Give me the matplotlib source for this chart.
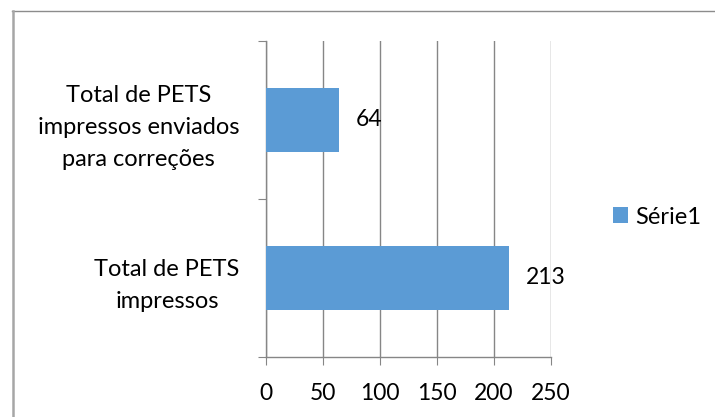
import matplotlib.pyplot as plt
from matplotlib.lines import Line2D

categories = ["Total de PETS\nimpressos", "Total de PETS\nimpressos enviados\npara correções"]
values = [213, 64]
series_name = "Série1"
x_ticks = [0, 50, 100, 150, 200, 250]

bar_color = "#5B9BD5"
axis_color = "#868686"

plt.rcParams['font.family'] = ['Lato', 'DejaVu Sans']

fig = plt.figure(figsize=(7.15, 4.17), dpi=100)
ax = fig.add_axes([266 / 715, 1 - 357 / 417, 285 / 715, 316 / 417])

ypos = list(range(len(categories)))
bars = ax.barh(ypos, values, height=0.4, color=bar_color, label=series_name, zorder=3)

# value labels to the right of each bar
for y, v in zip(ypos, values):
    ax.annotate(str(v), (v, y), xytext=(17, 0), textcoords="offset pixels",
                ha="left", va="center", fontsize=16.5, color="black", zorder=4)

ax.set_xlim(0, 250)
ax.set_ylim(-0.5, len(categories) - 0.5)
ax.set_xticks(x_ticks)
ax.set_xticklabels([str(t) for t in x_ticks], fontsize=16.5)
ax.xaxis.grid(True, color=axis_color, linewidth=1.0, zorder=0)

# category boundaries get the tick marks, labels sit between them
ax.set_yticks([-0.5, 0.5, 1.5])
ax.set_yticklabels([])
ax.set_yticks(ypos, labels=categories, minor=True)
for lbl in ax.get_yticklabels(minor=True):
    lbl.set_multialignment("center")
    lbl.set_fontsize(17)
    lbl.set_linespacing(1.65)

ax.tick_params(axis="y", which="major", length=6, color=axis_color, direction="out")
ax.tick_params(axis="y", which="minor", length=0, pad=19)
ax.tick_params(axis="x", length=6, color=axis_color, direction="out", pad=13)

for side in ("top", "right"):
    ax.spines[side].set_visible(False)
for side in ("left", "bottom"):
    ax.spines[side].set_color(axis_color)
    ax.spines[side].set_linewidth(1.0)

fig.legend(handles=[bars], labels=[series_name], loc="center left",
           bbox_to_anchor=(613 / 715, 1 - 217 / 417), frameon=False,
           fontsize=17, handlelength=0.65, handleheight=0.65,
           handletextpad=0.3, borderpad=0, borderaxespad=0)

# outer chart frame (top and left edges visible)
fig.add_artist(Line2D([12 / 715, 1], [1 - 11 / 417] * 2, transform=fig.transFigure,
                      color="#8c8c8c", linewidth=1.0))
fig.add_artist(Line2D([12.5 / 715] * 2, [0, 1 - 11 / 417], transform=fig.transFigure,
                      color="#a6a6a6", linewidth=1.8))

fig.savefig("out.png", dpi=100)
